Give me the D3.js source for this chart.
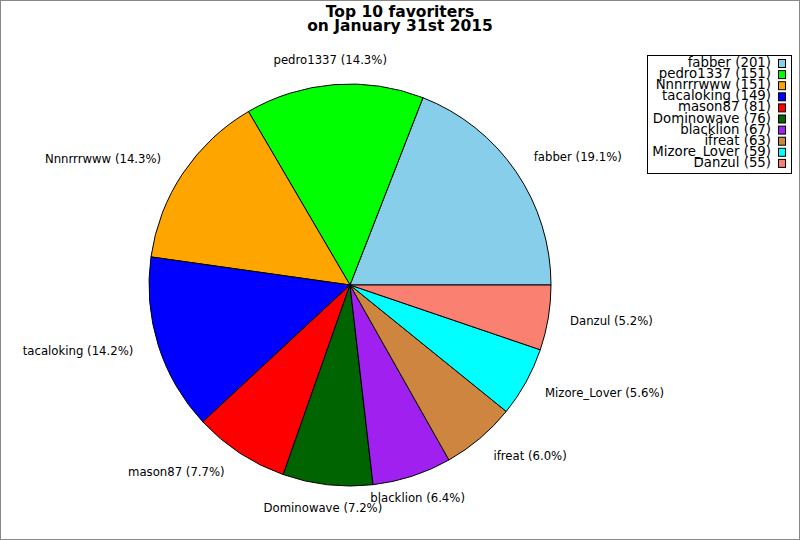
<!DOCTYPE html>
<html>
<head>
<meta charset="utf-8">
<script src="https://cdn.jsdelivr.net/npm/d3@7"></script>
<style>
  body { margin: 0; background: #fff; }
  svg { display: block; font-family: "DejaVu Sans", sans-serif; }
</style>
</head>
<body>
<svg id="chart" width="800" height="540"></svg>
<script>
// top 10 favoriters, order as in the legend
var names = ['fabber', 'pedro1337', 'Nnnrrrwww', 'tacaloking', 'mason87',
  'Dominowave', 'blacklion', 'ifreat', 'Mizore_Lover', 'Danzul'];
var counts = [201, 151, 151, 149, 81, 76, 67, 63, 59, 55];
var colors = ['#87ceeb', '#00ff00', '#ffa500', '#0000ff', '#ff0000',
  '#006400', '#a020f0', '#cd853f', '#00ffff', '#fa8072'];
var titleLines = ['Top 10 favoriters', 'on January 31st 2015'];

var width = 800, height = 540;
var cx = 350, cy = 285, radius = 201, labelRadius = 225;

var svg = d3.select('#chart');

// frame
svg.append('rect')
  .attr('x', 0.5).attr('y', 0.5)
  .attr('width', width - 1).attr('height', height - 1)
  .attr('fill', 'none')
  .attr('stroke', '#888');

// title
svg.append('text')
  .attr('x', 400)
  .attr('font-size', '15.5px')
  .attr('font-weight', 'bold')
  .attr('text-anchor', 'middle')
  .selectAll('tspan')
  .data(titleLines)
  .enter()
  .append('tspan')
  .attr('x', 400)
  .attr('y', (d, i) => 17 + i * 14)
  .text(d => d);

var data = names.map((n, i) => ({name: n, value: counts[i], color: colors[i]}));
var total = d3.sum(counts);

// counter-clockwise from 3 o'clock
var pie = d3.pie()
  .sort(null)
  .value(d => d.value)
  .startAngle(Math.PI / 2)
  .endAngle(Math.PI / 2 - 2 * Math.PI);

var arc = d3.arc().innerRadius(0).outerRadius(radius);
var labelArc = d3.arc().innerRadius(labelRadius).outerRadius(labelRadius);

var g = svg.append('g')
  .attr('transform', 'translate(' + cx + ',' + cy + ')');

var arcs = pie(data);

g.selectAll('path')
  .data(arcs)
  .enter()
  .append('path')
  .attr('d', arc)
  .attr('fill', d => d.data.color)
  .attr('stroke', '#000')
  .attr('stroke-width', 1);

g.selectAll('text.lbl')
  .data(arcs)
  .enter()
  .append('text')
  .attr('class', 'lbl')
  .attr('font-size', '11.7px')
  .attr('dy', '0.25em')
  .attr('transform', d => {
    var c = labelArc.centroid(d);
    return 'translate(' + (c[0] - 2) + ',' + c[1] + ')';
  })
  .attr('text-anchor', d => {
    var x = labelArc.centroid(d)[0] / labelRadius;
    if (Math.abs(x) < 0.4) return 'middle';
    return x > 0 ? 'start' : 'end';
  })
  .text(d => d.data.name + ' (' + (d.data.value / total * 100).toFixed(1) + '%)');

// legend
var legend = svg.append('g');
legend.append('rect')
  .attr('x', 647.5).attr('y', 55.5)
  .attr('width', 144).attr('height', 118)
  .attr('fill', '#fff')
  .attr('stroke', '#000');

var rows = legend.selectAll('g.row')
  .data(data)
  .enter()
  .append('g')
  .attr('class', 'row')
  .attr('transform', (d, i) => 'translate(0,' + (67 + i * 11.1) + ')');

rows.append('text')
  .attr('x', 771)
  .attr('text-anchor', 'end')
  .attr('font-size', '13.3px')
  .text(d => d.name + ' (' + d.value + ')');

rows.append('rect')
  .attr('x', 778.5).attr('y', -7.5)
  .attr('width', 7).attr('height', 8)
  .attr('fill', d => d.color)
  .attr('stroke', '#000');
</script>
</body>
</html>
